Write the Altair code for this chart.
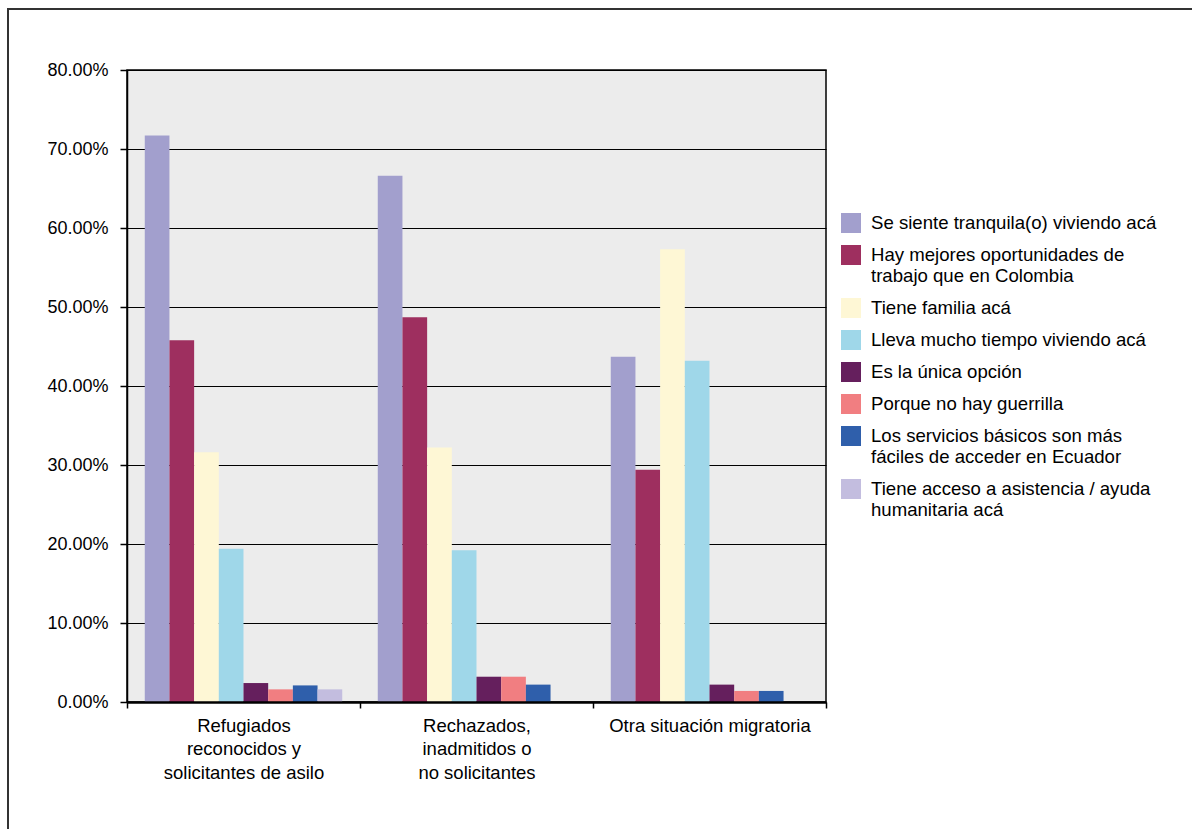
import altair as alt
import pandas as pd

groups = [
    "Refugiados reconocidos y solicitantes de asilo",
    "Rechazados, inadmitidos o no solicitantes",
    "Otra situación migratoria",
]
group_lines = [
    ["Refugiados", "reconocidos y", "solicitantes de asilo"],
    ["Rechazados,", "inadmitidos o", "no solicitantes"],
    ["Otra situación migratoria"],
]

categories = [
    "Se siente tranquila(o) viviendo acá",
    "Hay mejores oportunidades de trabajo que en Colombia",
    "Tiene familia acá",
    "Lleva mucho tiempo viviendo acá",
    "Es la única opción",
    "Porque no hay guerrilla",
    "Los servicios básicos son más fáciles de acceder en Ecuador",
    "Tiene acceso a asistencia / ayuda humanitaria acá",
]
category_lines = [
    ["Se siente tranquila(o) viviendo acá"],
    ["Hay mejores oportunidades de", "trabajo que en Colombia"],
    ["Tiene familia acá"],
    ["Lleva mucho tiempo viviendo acá"],
    ["Es la única opción"],
    ["Porque no hay guerrilla"],
    ["Los servicios básicos son más", "fáciles de acceder en Ecuador"],
    ["Tiene acceso a asistencia / ayuda", "humanitaria acá"],
]
colors = ["#A29FCD", "#9E2F5F", "#FEF7D5", "#9FD7E9",
          "#651F5D", "#F17E81", "#2F5FAB", "#C3BDDF"]

# percentages per category, one value per group (None = not reported)
se_siente = [71.7, 66.6, 43.7]
hay_mejores = [45.8, 48.7, 29.4]
tiene_familia = [31.6, 32.2, 57.3]
lleva_tiempo = [19.4, 19.2, 43.2]
unica_opcion = [2.4, 3.2, 2.2]
no_guerrilla = [1.6, 3.2, 1.4]
servicios = [2.1, 2.2, 1.4]
asistencia = [1.6, None, None]

series = [se_siente, hay_mejores, tiene_familia, lleva_tiempo,
          unica_opcion, no_guerrilla, servicios, asistencia]

y_ticks = [0, 0.1, 0.2, 0.3, 0.4, 0.5, 0.6, 0.7, 0.8]

rows = []
for cat, vals in zip(categories, series):
    for g, v in zip(groups, vals):
        if v is not None:
            rows.append({"grupo": g, "motivo": cat, "valor": v / 100})
df = pd.DataFrame(rows)


def lines_expr(names, lines):
    expr = "datum.label"
    for n, l in reversed(list(zip(names, lines))):
        arr = "[" + ", ".join("'" + s.replace("'", "\\'") + "'" for s in l) + "]"
        expr = f"datum.label === '{n}' ? {arr} : ({expr})"
    return expr


FONT = "Liberation Sans"

bars = alt.Chart(df).mark_bar().encode(
    x=alt.X("grupo:N", sort=groups,
            scale=alt.Scale(paddingInner=0, paddingOuter=0),
            axis=alt.Axis(title=None, labelAngle=0, labelExpr=lines_expr(groups, group_lines),
                          labelFontSize=18.5, labelLineHeight=23.5, labelPadding=8,
                          labelColor="black", tickBand="extent", tickSize=6,
                          tickColor="black", tickWidth=1.5, domainColor="black",
                          domainWidth=2.5, labelLimit=300, grid=False,
                          labelBaseline="top", zindex=2)),
    xOffset=alt.XOffset("motivo:N", sort=categories,
                        scale=alt.Scale(domain=categories, paddingInner=0, paddingOuter=0.72)),
    y=alt.Y("valor:Q", scale=alt.Scale(domain=[0, 0.8], nice=False),
            axis=alt.Axis(title=None, format=".2%", values=y_ticks,
                          labelFontSize=18, labelColor="black", labelPadding=12,
                          tickSize=7, tickColor="black", tickWidth=1.5,
                          domainColor="black", domainWidth=1.5,
                          gridColor="black", gridWidth=1, gridOpacity=1)),
    color=alt.Color("motivo:N", sort=categories,
                    scale=alt.Scale(domain=categories, range=colors),
                    legend=alt.Legend(title=None, orient="none", legendX=714, legendY=143,
                                      symbolType="square", symbolSize=400,
                                      symbolStrokeWidth=0, labelFontSize=18.6,
                                      labelOffset=10,
                                      labelLimit=400, rowPadding=12,
                                      labelColor="black", padding=0,
                                      labelExpr=lines_expr(categories, category_lines))),
)

frame_df = pd.DataFrame({"k": [0]})
left_line = alt.Chart(frame_df).mark_rule(color="#333333", strokeWidth=2).encode(
    x=alt.value(-119), y=alt.value(-61), y2=alt.value(760))
top_line = alt.Chart(frame_df).mark_rule(color="#333333", strokeWidth=2).encode(
    x=alt.value(-120), x2=alt.value(1066), y=alt.value(-61))

chart = alt.layer(bars, left_line, top_line).properties(
    width=699, height=632,
    autosize=alt.AutoSizeParams(type="none"),
    padding={"left": 127, "top": 70, "right": 366, "bottom": 127},
    background="white",
).configure(font=FONT).configure_view(
    fill="#ECECEC", stroke="black", strokeWidth=1.5
)

chart.save("out.html", embed_options={"renderer": "svg", "actions": False})
